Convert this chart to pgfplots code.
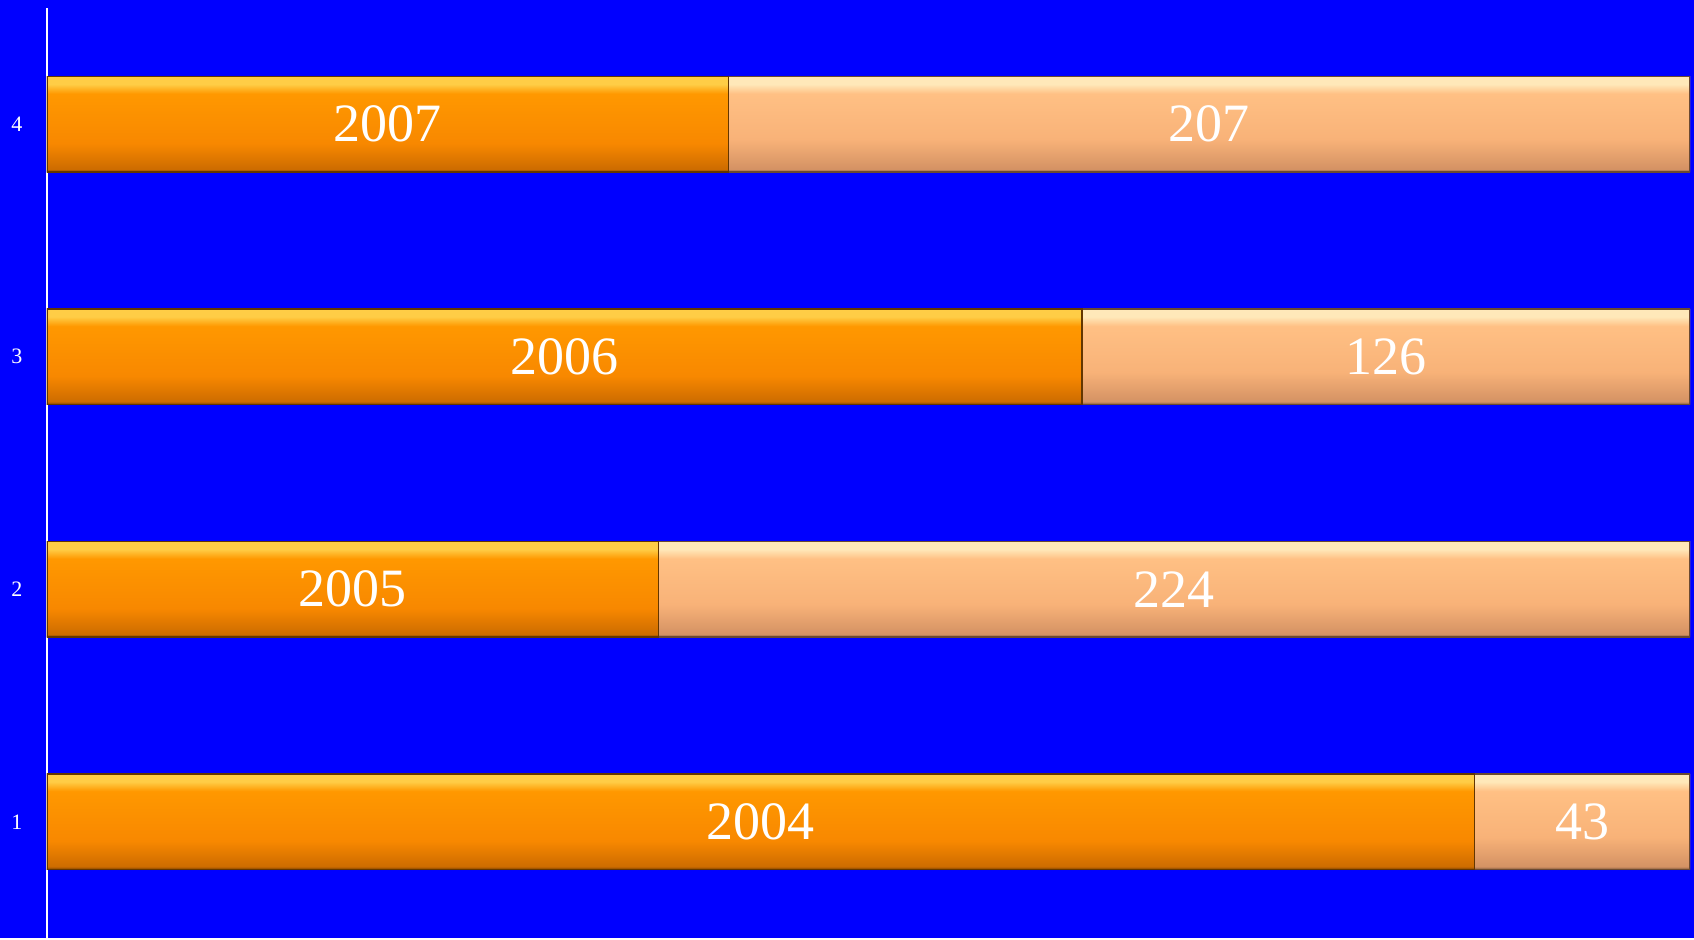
\documentclass[border=0pt]{standalone}
\usepackage{pgfplots}
\usepackage{pgfplotstable}
\pgfplotsset{compat=1.18}
\usepackage{fontspec}
\setmainfont{Liberation Serif}

\definecolor{bg}{RGB}{0,0,255}
\definecolor{orHi}{RGB}{255,205,70}
\definecolor{orTop}{RGB}{255,152,0}
\definecolor{orMid}{RGB}{248,136,0}
\definecolor{orBot}{RGB}{205,108,0}
\definecolor{ltHi}{RGB}{255,232,185}
\definecolor{ltTop}{RGB}{255,192,132}
\definecolor{ltMid}{RGB}{248,178,120}
\definecolor{ltBot}{RGB}{212,146,100}

% vertical shadings; the bar spans 25bp (bottom) to 75bp (top)
\pgfdeclareverticalshading{orbar}{100bp}{color(0bp)=(orBot!60!black); color(25bp)=(orBot!60!black); color(26.5bp)=(orBot); color(40bp)=(orMid); color(66bp)=(orTop); color(71bp)=(orHi); color(75bp)=(orHi); color(100bp)=(orHi)}
\pgfdeclareverticalshading{ltbar}{100bp}{color(0bp)=(ltBot!60!black); color(25bp)=(ltBot!60!black); color(26.5bp)=(ltBot); color(42bp)=(ltMid); color(66bp)=(ltTop); color(71bp)=(ltHi); color(75bp)=(ltHi); color(100bp)=(ltHi)}

% share of each segment
\pgfplotstableread{
y  first  second
1  0.869  0.131
2  0.372  0.628
3  0.630  0.370
4  0.415  0.585
}\shares

\pgfplotsset{
  frame/.style={
    scale only axis, width=821.5pt, height=465pt,
    xmin=0, xmax=1, ymin=0.5, ymax=4.5,
  },
}

\begin{document}
\begin{tikzpicture}
\fill[bg] (-23.5pt,0) rectangle (823.5pt,469pt);
\begin{axis}[
    frame,
    xbar, bar width=0.41, bar shift=0pt,
    axis x line=none,
    axis y line*=left,
    axis line style={white, line width=1pt, -},
    ytick={1,2,3,4},
    major tick length=0pt,
    /pgf/number format/assume math mode=true,
    yticklabel style={anchor=center, xshift=-15pt, font=\fontsize{11}{13}\selectfont, text=white},
  ]
  % one plot per bar so that each bar gets its own shading
  \pgfplotsinvokeforeach{1,2,3,4}{
    \addplot [draw=ltBot!50!black, line width=0.6pt, shading=ltbar,
      restrict expr to domain={\thisrow{y}}{#1:#1}]
      table [x expr=\thisrow{first}+\thisrow{second}, y=y] {\shares};
    \addplot [draw=orMid!40!black, line width=0.6pt, shading=orbar,
      restrict expr to domain={\thisrow{y}}{#1:#1}]
      table [x=first, y=y] {\shares};
  }
\end{axis}
\begin{axis}[
    frame,
    axis lines=none,
  ]
  \addplot [draw=none, nodes near coords, point meta=explicit symbolic,
    every node near coord/.style={anchor=center, text=white, font=\fontsize{27}{31}\selectfont}]
    coordinates {
      (0.2075,4) [2007] (0.7075,4) [207]
      (0.3150,3) [2006] (0.8150,3) [126]
      (0.1860,2) [2005] (0.6860,2) [224]
      (0.4345,1) [2004] (0.9345,1) [43]
    };
\end{axis}
\end{tikzpicture}
\end{document}
